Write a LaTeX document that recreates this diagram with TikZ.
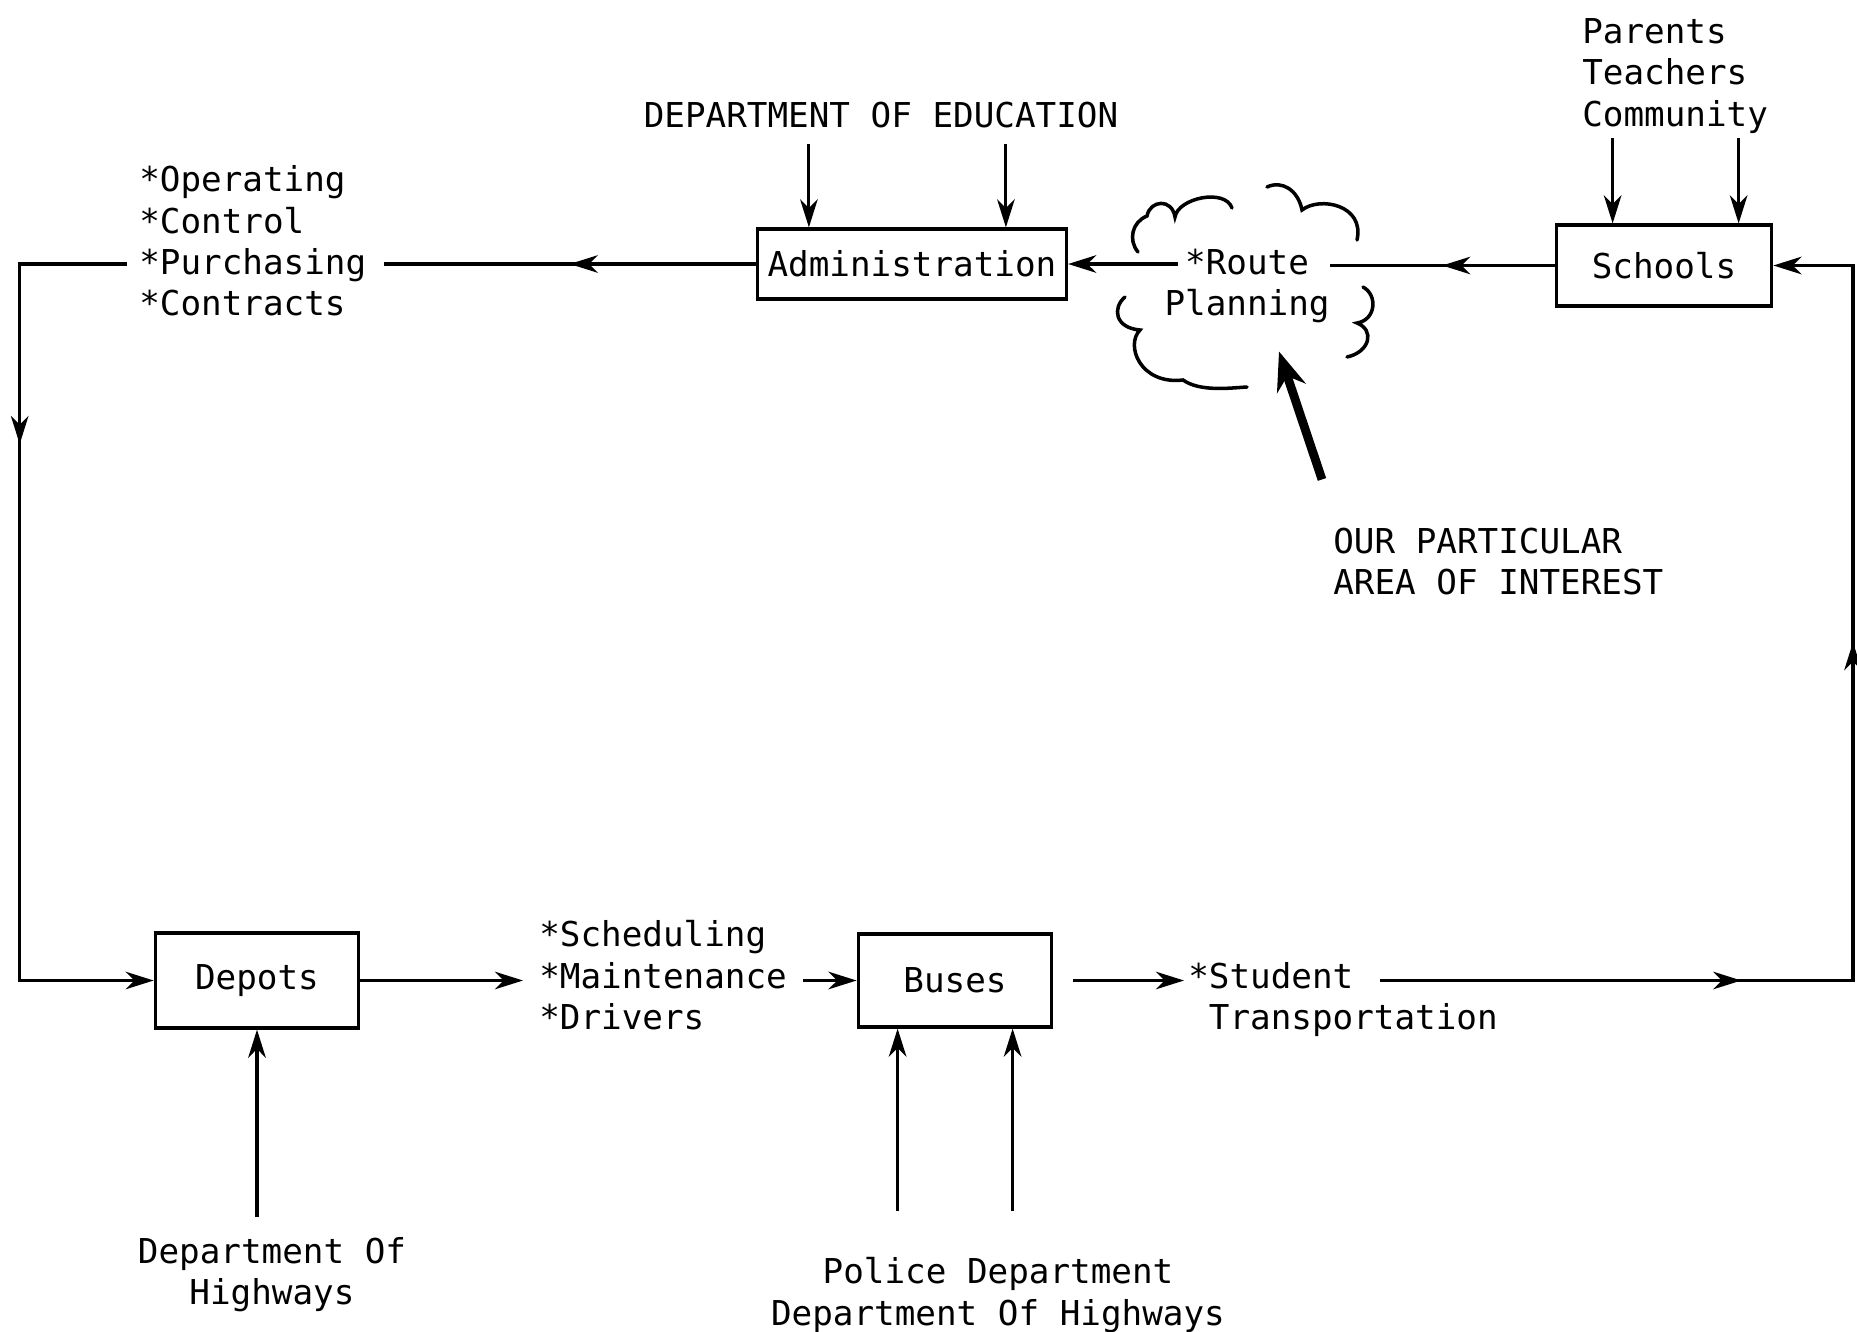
\documentclass[tikz,border=0pt]{standalone}
\usepackage{fontspec}
\newfontfamily\plotfont{DejaVu Sans Mono}
\usetikzlibrary{arrows.meta,calc}
\usetikzlibrary{decorations.markings}

\tikzset{
  barb/.tip={Stealth[length=16pt,width=10pt,inset=5pt]},
  txt/.style={font=\plotfont\fontsize{19.5}{23.6}\selectfont, inner sep=0pt},
  blk/.style={txt, draw, line width=2pt},
  wire/.style={line width=1.8pt},
  arr/.style={wire, -barb},
  midarr/.style={postaction={decorate, decoration={markings, mark=at position #1 with {\arrow{barb}}}}},
  midarr/.default=0.5,
  puff/.style={line width=2pt, line cap=round},
  bigarr/.style={line width=5pt, -{Stealth[length=22pt,width=17pt]}}
}

\begin{document}
\begin{tikzpicture}[x=0.02cm, y=-0.02cm]
    \useasboundingbox (0,0) rectangle (1857,1332);
    % boxes
    \node[blk, minimum width=175.7pt, minimum height=39.7pt] (adm) at (912,264) {Administration};
    \node[blk, minimum width=122.5pt, minimum height=45.9pt] (sch) at (1664,265.5) {Schools};
    \node[blk, minimum width=115.6pt, minimum height=53.9pt] (dep) at (257,980.5) {Depots};
    \node[blk, minimum width=110pt, minimum height=52.7pt] (bus) at (955,980.5) {Buses};
    % labels
    \node[txt] (doe) at (881,115) {DEPARTMENT OF EDUCATION};
    \node[txt, align=left, anchor=west] (ptc) at (1582,76) {Parents\\Teachers\\Community};
    \node[txt, align=left, anchor=west] (ops) at (139,241) {*Operating\\*Control\\*Purchasing\\*Contracts};
    \node[txt, align=center] (route) at (1247,286) {*Route\\Planning};
    \node[txt, align=left, anchor=west] (intr) at (1333,561.5) {OUR PARTICULAR\\AREA OF INTEREST};
    \node[txt, align=left, anchor=west] (sched) at (539,975.5) {*Scheduling\\*Maintenance\\*Drivers};
    \node[txt, align=left, anchor=west] (stud) at (1188,999.5) {*Student\\\phantom{*}Transportation};
    \node[txt, align=center] (hwy) at (272,1274.5) {Department Of\\Highways};
    \node[txt, align=center] (pol) at (998,1295) {Police Department\\Department Of Highways};

    % inputs from above
    \foreach \dx in {53,250}
      \draw[arr] ($(doe.south -| adm.west)+(\dx,16)$) -- ($(adm.north west)+(\dx,0)$);
    \foreach \dx in {58,184}
      \draw[arr] ($(ptc.south -| sch.west)+(\dx,4)$) -- ($(sch.north west)+(\dx,0)$);

    % main loop
    \draw[arr] ($(route.west |- adm.east)+(14,0)$) -- (adm.east);
    \draw[wire, midarr] (sch.west) -- (route.east |- sch.west);
    \draw[wire, midarr] (adm.west) -- ($(ops.east |- adm.west)+(17,0)$);
    \draw[arr, midarr=0.3] ($(ops.west |- adm.west)+(-12,0)$) -| ($(dep.west)+(-134,0)$) -- (dep.west);
    \draw[arr] (dep.east) -- ($(sched.west |- dep.east)+(-16,0)$);
    \draw[arr] ($(sched.east |- bus.west)+(16,0)$) -- (bus.west);
    \draw[arr] ($(bus.east)+(20,0)$) -- ($(stud.west |- bus.east)+(-4,0)$);
    \draw[arr, midarr=0.285, midarr=0.64] ($(stud.west |- bus.east)+(192,0)$) -- ++(473,0) |- (sch.east);

    % inputs from below
    \draw[arr] ($(hwy.north -| dep.south)+(0,-20)$) -- (dep.south);
    \foreach \dx in {41,156}
      \draw[arr] ($(pol.north -| bus.south west)+(\dx,-46)$) -- ($(bus.south west)+(\dx,0)$);

    % cloud round route planning
    \draw[puff] (1138,252) .. controls (1128,240) and (1132,222) .. (1147,216)
        .. controls (1150,200) and (1172,198) .. (1175,217)
        .. controls (1178,198) and (1225,188) .. (1232,208);
    \draw[puff] (1267,187) .. controls (1282,180) and (1298,190) .. (1302,210)
        .. controls (1320,196) and (1365,205) .. (1357,240);
    \draw[puff] (1363,287) .. controls (1378,295) and (1376,320) .. (1357,323)
        .. controls (1375,330) and (1370,352) .. (1347,357);
    \draw[puff] (1125,297) .. controls (1112,308) and (1115,328) .. (1140,330)
        .. controls (1125,345) and (1140,385) .. (1183,380)
        .. controls (1200,392) and (1230,388) .. (1247,387);

    % pointer to the cloud
    \draw[bigarr] ($(intr.north west)+(-11,-48)$) -- ++(-43,-128);
\end{tikzpicture}
\end{document}
